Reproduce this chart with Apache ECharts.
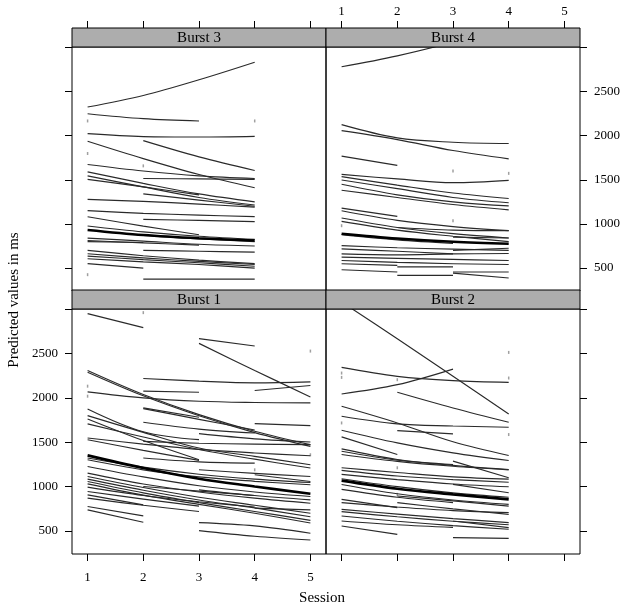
<!DOCTYPE html>
<html><head><meta charset="utf-8">
<script src="https://cdn.jsdelivr.net/npm/echarts@6/dist/echarts.min.js"></script>
<style>html,body{margin:0;padding:0;background:#fff}#c{width:624px;height:608px}</style>
</head><body><div id="c"></div>
<script>
// ---------- data ----------
const sessionTicks = [1, 2, 3, 4, 5];
const valueLabels = [500, 1000, 1500, 2000, 2500];
const valueTicks = [500, 1000, 1500, 2000, 2500, 3000];
const panelNames = ['Burst 3', 'Burst 4', 'Burst 1', 'Burst 2'];
const xTitle = 'Session';
const yTitle = 'Predicted values in ms';

// each line: [first session, value at that session, value at next session, ...]
const burst3Lines = [
  [1, 2325, 2456, 2634, 2833],
  [1, 2249, 2193, 2166],
  [1, 2023, 1990, 1985, 1993],
  [1, 1937, 1740, 1560, 1410],
  [2, 1944, 1760, 1606],
  [1, 1674, 1600, 1545, 1515],
  [1, 1590, 1460, 1340, 1250],
  [1, 1545, 1420, 1300, 1215],
  [1, 1505, 1420, 1330],
  [2, 1515, 1510, 1505],
  [2, 1340, 1270, 1200],
  [1, 1278, 1255, 1225, 1190],
  [1, 1150, 1120, 1100, 1082],
  [2, 1051, 1040, 1026],
  [1, 1082, 975, 878],
  [1, 977, 910, 860, 825],
  [1, 840, 805, 770, 750],
  [1, 812, 785, 760],
  [1, 800, 790],
  [2, 700, 690, 680],
  [1, 700, 640, 590, 550],
  [1, 662, 615, 575, 540],
  [1, 636, 595, 560, 520],
  [1, 606, 570, 540, 500],
  [1, 550, 500],
  [2, 375, 375, 375],
  [2, 870, 830, 800]
];
const burst3Mean = [1, 932, 875, 838, 812];
const burst3Dots = [[1, 2167], [4, 2167], [1, 1798], [2, 1658], [1, 425]];

const burst4Lines = [
  [1, 2781, 2905, 3060, 3240],
  [1, 2125, 1975, 1926, 1911],
  [1, 2057, 1956, 1832, 1738],
  [1, 1768, 1663],
  [1, 1562, 1510, 1468, 1494],
  [1, 1536, 1440, 1350, 1288],
  [1, 1498, 1400, 1300, 1240],
  [1, 1449, 1330, 1250, 1205],
  [1, 1382, 1300, 1220, 1160],
  [1, 1179, 1085],
  [1, 1149, 1040, 970, 924],
  [1, 1067, 960, 890, 841],
  [1, 1029, 930, 860, 800],
  [1, 879, 820, 780],
  [1, 755, 730, 715, 700],
  [1, 718, 690, 661],
  [1, 661, 650, 660, 665],
  [1, 624, 610, 598, 586],
  [1, 586, 565, 549],
  [1, 549, 530],
  [1, 481, 455],
  [2, 417, 417],
  [2, 513, 513],
  [3, 455, 455],
  [3, 549, 540],
  [3, 443, 387],
  [2, 960, 930, 924],
  [3, 850, 841],
  [3, 700, 725]
];
const burst4Mean = [1, 889, 835, 798, 776];
const burst4Dots = [[3, 1599], [4, 1573], [3, 1037], [1, 980]];

const burst1Lines = [
  [1, 2953, 2795],
  [3, 2670, 2587],
  [3, 2617, 2311, 2013],
  [1, 2311, 2040, 1813, 1625, 1474],
  [1, 2292, 2025, 1800, 1610, 1455],
  [2, 2221, 2191, 2172, 2183],
  [2, 2078, 2066],
  [4, 2085, 2142],
  [1, 2070, 2002, 1964, 1950, 1945],
  [2, 1889, 1783],
  [2, 1880, 1760, 1640],
  [4, 1711, 1689],
  [1, 1877, 1620, 1530],
  [1, 1802, 1613, 1436, 1342, 1247],
  [1, 1764, 1520, 1304],
  [1, 1708, 1560, 1420, 1310, 1210],
  [2, 1727, 1650, 1606],
  [3, 1598, 1540, 1504],
  [1, 1549, 1480, 1420, 1380, 1349],
  [1, 1530, 1410, 1296],
  [2, 1511, 1490, 1480, 1474],
  [1, 1323, 1220, 1140, 1085, 1047],
  [1, 1304, 1190, 1110, 1060, 1021],
  [1, 1228, 1110, 1010, 940, 889],
  [1, 1153, 1030, 940, 870, 813],
  [1, 1115, 990, 880, 790, 700],
  [1, 1085, 960, 850, 760, 660],
  [1, 1058, 930, 820, 720, 620],
  [1, 1032, 905, 800, 700, 590],
  [1, 994, 900, 830, 770],
  [1, 945, 860, 780],
  [1, 908, 794],
  [1, 870, 790, 720],
  [1, 776, 670],
  [1, 738, 598],
  [3, 594, 557, 474],
  [3, 504, 440, 398],
  [3, 1191, 1150, 1115],
  [4, 1134, 1058],
  [3, 964, 900, 851],
  [4, 757, 738],
  [2, 1323, 1280, 1266],
  [2, 1002, 950, 900]
];
const burst1Mean = [1, 1353, 1210, 1089, 1002, 919];
const burst1Dots = [[2, 2964], [5, 2530], [1, 2134], [1, 2021], [4, 1190], [5, 1360]];

const burst2Lines = [
  [1, 3085, 2669, 2245, 1821],
  [1, 2346, 2245, 2196, 2177],
  [1, 2046, 2151, 2327],
  [2, 2065, 1888, 1727],
  [1, 1907, 1719, 1506, 1352],
  [1, 1794, 1708, 1685, 1671],
  [2, 1633, 1596],
  [1, 1637, 1494, 1382, 1295],
  [1, 1562, 1363],
  [1, 1427, 1307, 1240, 1194],
  [1, 1400, 1300, 1250],
  [1, 1363, 1285, 1230, 1190],
  [3, 1288, 1100],
  [1, 1213, 1160, 1110, 1085],
  [1, 1183, 1120, 1080, 1050],
  [1, 1138, 1080, 1030, 999],
  [1, 1089, 1000, 930, 880],
  [1, 1025, 920, 850, 800],
  [1, 969, 880, 820],
  [1, 856, 763],
  [1, 819, 770, 730, 708],
  [1, 744, 690, 640, 594],
  [1, 718, 660, 610, 570],
  [1, 669, 610, 560, 519],
  [1, 613, 570, 540],
  [1, 556, 462],
  [3, 425, 417],
  [2, 894, 840, 781],
  [2, 819, 750, 688],
  [3, 1025, 931],
  [3, 613, 538]
];
const burst2Mean = [1, 1068, 977, 913, 856];
const burst2Dots = [[4, 2515], [1, 2282], [1, 2233], [2, 2207], [4, 2226], [4, 1588], [1, 1719], [2, 1213], [2, 913]];

// ---------- layout ----------
const panels = [
  { lines: burst3Lines, mean: burst3Mean, dots: burst3Dots },
  { lines: burst4Lines, mean: burst4Mean, dots: burst4Dots },
  { lines: burst1Lines, mean: burst1Mean, dots: burst1Dots },
  { lines: burst2Lines, mean: burst2Mean, dots: burst2Dots }
];
const PL = 72, PW = 254, STRIP = 19;
const T1 = 47, H1 = 244, T2 = 309, H2 = 245;
const gridBoxes = [
  { left: PL, top: T1, width: PW, height: H1 },
  { left: PL + PW, top: T1, width: PW, height: H1 },
  { left: PL, top: T2, width: PW, height: H2 },
  { left: PL + PW, top: T2, width: PW, height: H2 }
];
const FONT = 'Liberation Serif';

const toPairs = (line) => line.slice(1).map((v, k) => [line[0] + k, v]);

const grid = gridBoxes.map(b => Object.assign({
  show: true, borderColor: '#000', borderWidth: 1, backgroundColor: 'transparent', containLabel: false
}, b));

const xShowLabel = [false, true, true, false];
const xPos = ['top', 'top', 'bottom', 'bottom'];
const yShowLabel = [false, true, true, false];
const yPos = ['left', 'right', 'left', 'right'];

const xAxis = [0, 1, 2, 3].map(i => ({
  type: 'value', gridIndex: i, min: 0.72, max: 5.28, position: xPos[i],
  offset: xPos[i] === 'top' ? STRIP : 0,
  splitLine: { show: false },
  axisLine: { show: false, onZero: false },
  axisTick: { show: true, inside: false, length: 7, customValues: sessionTicks, lineStyle: { color: '#000', width: 1 } },
  axisLabel: { show: xShowLabel[i], customValues: sessionTicks, fontFamily: FONT, fontSize: 13, color: '#000',
    margin: xPos[i] === 'top' ? 10 : 17, formatter: v => String(v) }
}));
const yAxis = [0, 1, 2, 3].map(i => ({
  type: 'value', gridIndex: i, min: 240, max: 3005, position: yPos[i],
  splitLine: { show: false },
  axisLine: { show: false, onZero: false },
  axisTick: { show: true, inside: false, length: 7, customValues: valueTicks, lineStyle: { color: '#000', width: 1 } },
  axisLabel: { show: yShowLabel[i], customValues: valueLabels, fontFamily: FONT, fontSize: 13, color: '#000', margin: 14,
    formatter: v => String(v) }
}));

const series = [];
panels.forEach((p, i) => {
  p.lines.forEach(line => {
    series.push({
      type: 'line', xAxisIndex: i, yAxisIndex: i, data: toPairs(line),
      symbol: 'none', showSymbol: false, smooth: 0.35, clip: true, silent: true,
      lineStyle: { color: '#2a2a2a', width: 1.15 }, z: 2
    });
  });
  series.push({
    type: 'line', xAxisIndex: i, yAxisIndex: i, data: toPairs(p.mean),
    symbol: 'none', showSymbol: false, smooth: 0.35, clip: true, silent: true,
    lineStyle: { color: '#000', width: 2.6 }, z: 3
  });
  series.push({
    type: 'scatter', xAxisIndex: i, yAxisIndex: i, data: p.dots,
    symbol: 'rect', symbolSize: [1.5, 3], itemStyle: { color: '#888' }, silent: true, z: 1
  });
});

const graphic = [];
gridBoxes.forEach((b, i) => {
  graphic.push({
    type: 'rect', shape: { x: b.left, y: b.top - STRIP, width: b.width, height: STRIP },
    style: { fill: '#adadad', stroke: '#000', lineWidth: 1 }, z: 10
  });
  graphic.push({
    type: 'text', x: b.left + b.width / 2, y: b.top - STRIP / 2 + 0.5,
    style: { text: panelNames[i], font: '15px "' + FONT + '"', fill: '#000', align: 'center', verticalAlign: 'middle' }, z: 11
  });
});
graphic.push({
  type: 'text', x: 322, y: 598,
  style: { text: xTitle, font: '15px "' + FONT + '"', fill: '#000', align: 'center', verticalAlign: 'middle' }
});
graphic.push({
  type: 'text', x: 14, y: 300, rotation: Math.PI / 2,
  style: { text: yTitle, font: '15px "' + FONT + '"', fill: '#000', align: 'center', verticalAlign: 'middle' }
});

const chart = echarts.init(document.getElementById('c'), null, { renderer: 'canvas' });
chart.setOption({
  animation: false,
  backgroundColor: '#fff',
  grid, xAxis, yAxis, series, graphic
});
</script>
</body></html>
